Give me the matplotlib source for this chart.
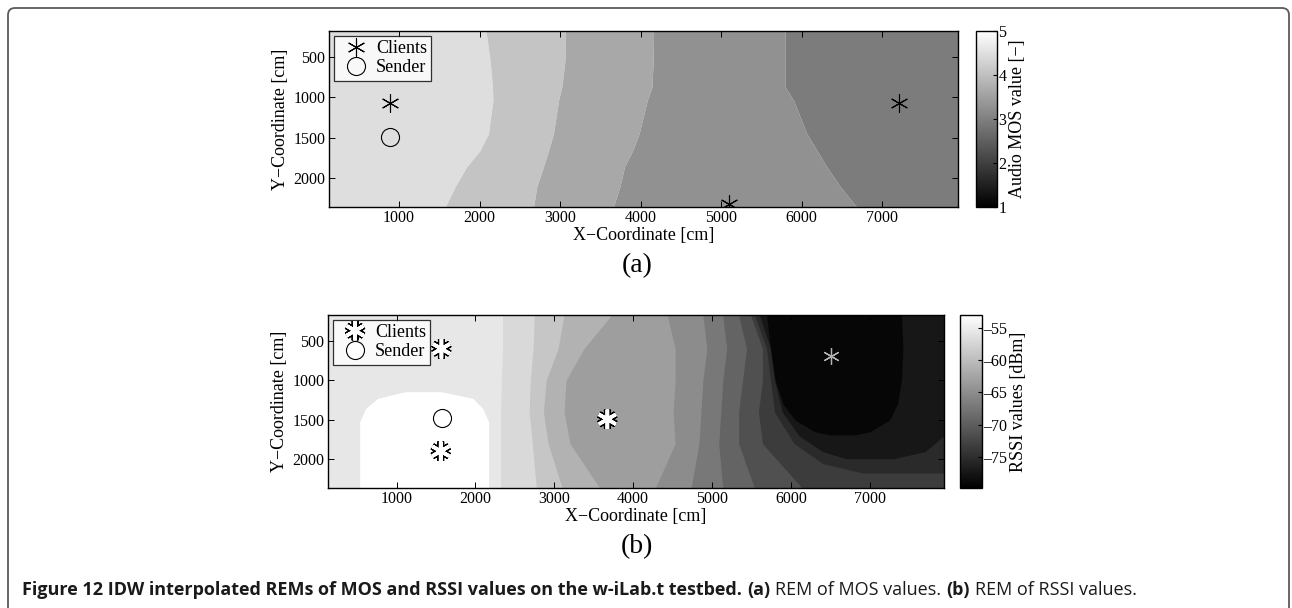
import matplotlib
matplotlib.use("Agg")
import matplotlib.pyplot as plt
from matplotlib import patches, patheffects
from matplotlib.cm import ScalarMappable
from matplotlib.colors import Normalize
from matplotlib.ticker import FuncFormatter
from matplotlib.transforms import IdentityTransform

plt.rcParams["font.family"] = ["Liberation Serif", "DejaVu Serif"]

# ---------------- data ----------------
XLIM = (130, 7940)
YLIM = (2360, 175)

# (a) MOS map: x position of each band boundary at the sample heights
mos_y = [175, 540, 870, 1040, 1450, 1660, 1860, 2110, 2365]
mos_b1 = [2080, 2130, 2160, 2165, 2110, 2005, 1840, 1695, 1570]
mos_b2 = [3062, 3060, 3020, 2980, 2917, 2855, 2793, 2710, 2668]
mos_b3 = [4160, 4155, 4140, 4080, 3980, 3900, 3800, 3740, 3660]
mos_b4 = [5795, 5795, 5795, 5900, 6063, 6190, 6310, 6480, 6685]
mos_band_vals = [4.47, 4.07, 3.63, 3.28, 2.95]

mos_clients_x = [888, 5099, 7203]
mos_clients_y = [1075, 2317, 1063]
mos_sender_x = [888]
mos_sender_y = [1490]

# (b) RSSI map: layers drawn right of a boundary (x at the sample heights)
rssi_y = [175, 600, 1000, 1400, 1800, 2360]
rssi_layers = [
    ([2343, 2343, 2328, 2318, 2318, 2318], -57.0),
    ([2745, 2730, 2695, 2680, 2720, 2771], -59.0),
    ([3123, 3047, 2896, 2861, 2921, 3098], -61.1),
    ([3726, 3374, 3148, 3123, 3198, 3575], -63.2),
    ([4430, 4531, 4531, 4506, 4531, 4280], -65.1),
    ([4883, 4933, 4883, 4858, 4833, 4733], -67.2),
    ([5135, 5185, 5135, 5110, 5084, 5135], -69.3),
    ([5336, 5436, 5386, 5336, 5336, 5537], -71.4),
    ([5487, 5638, 5638, 5587, 5638, 6141], -73.5),
]
# dark rings round the far client: y range, left and right edges
rssi_ring_y = [
    [175, 600, 1000, 1400, 1800, 2050, 2170],
    [175, 600, 1000, 1400, 1700, 1900, 1990],
    [175, 600, 1000, 1300, 1500, 1650, 1690],
]
rssi_ring_left = [
    [5540, 5690, 5740, 5790, 6040, 6400, 6900],
    [5600, 5740, 5790, 5890, 6100, 6400, 6700],
    [5690, 5740, 5800, 5900, 6050, 6300, 6500],
]
rssi_ring_right = [
    [7940, 7940, 7940, 7940, 7940, 7940, 7940],
    [7940, 7940, 7940, 7940, 7940, 7700, 7300],
    [7400, 7420, 7400, 7350, 7250, 7000, 6800],
]
rssi_ring_vals = [-75.4, -77.3, -79.1]
# white spot round the sender
blob_y = [1143, 1228, 1354, 1524, 2360]
blob_left = [1110, 759, 608, 532, 532]
blob_right = [1563, 1966, 2091, 2167, 2167]
rssi_back = -55.6
rssi_blob = -53.0

rssi_clients_x = [1568, 1559, 3672]
rssi_clients_y = [602, 1895, 1492]
rssi_far_x = [6502]
rssi_far_y = [690]
rssi_sender_x = [1576]
rssi_sender_y = [1479]

mos_ticks = [1, 2, 3, 4, 5]
rssi_ticks = [-75, -70, -65, -60, -55]

W, H = 1292, 608
fig = plt.figure(figsize=(W / 100, H / 100), dpi=100)


def frac(x0, y0, x1, y1):
    return [x0 / W, 1 - y1 / H, (x1 - x0) / W, (y1 - y0) / H]


cmap = plt.get_cmap("gray")
STAR = (6, 2, 0)


def style_axes(ax):
    ax.set_xlim(*XLIM)
    ax.set_ylim(*YLIM)
    ax.set_xticks([1000, 2000, 3000, 4000, 5000, 6000, 7000])
    ax.set_yticks([500, 1000, 1500, 2000])
    ax.tick_params(direction="in", length=4, width=0.7, top=True, right=True,
                   labelsize=11.5, pad=2.5)
    ax.set_xlabel("X\u2212Coordinate [cm]", fontsize=13, labelpad=0.5)
    ax.set_ylabel("Y\u2212Coordinate [cm]", fontsize=13, labelpad=3)
    for s in ax.spines.values():
        s.set_linewidth(1.0)


def add_legend(ax):
    leg = ax.legend(loc="upper left", fontsize=13, frameon=True, fancybox=False,
                    edgecolor="black", borderpad=0.25, handlelength=2.0,
                    handletextpad=0.1, labelspacing=0.12, borderaxespad=0.25)
    leg.get_frame().set_linewidth(0.9)


# ---------------- panel (a) ----------------
ax1 = fig.add_axes(frac(329, 31, 958, 207))
norm_a = Normalize(1, 5)
bounds = [[XLIM[0]] * len(mos_y), mos_b1, mos_b2, mos_b3, mos_b4, [XLIM[1]] * len(mos_y)]
for i, v in enumerate(mos_band_vals):
    ax1.fill_betweenx(mos_y, bounds[i], bounds[i + 1], color=cmap(norm_a(v)), lw=0)
ax1.plot(mos_clients_x, mos_clients_y, ls="none", marker=STAR, ms=13,
         mew=0.8, color="black", label="Clients")
ax1.plot(mos_sender_x, mos_sender_y, ls="none", marker="o", ms=13, mew=0.8,
         mfc="none", color="black", label="Sender")
style_axes(ax1)
add_legend(ax1)

cax1 = fig.add_axes(frac(976, 31, 997, 207))
cb1 = fig.colorbar(ScalarMappable(norm_a, cmap), cax=cax1, ticks=mos_ticks)
cb1.ax.tick_params(direction="in", length=3, labelsize=11.5, pad=1)
cb1.set_label("Audio MOS value [\u2212]", fontsize=13, labelpad=2)
cb1.outline.set_linewidth(1.0)

fig.text(637 / W, 1 - 266 / H, "(a)", fontsize=20, ha="center", va="center")

# ---------------- panel (b) ----------------
ax2 = fig.add_axes(frac(328, 315, 944, 488))
norm_b = Normalize(-79.8, -53.0)
ax2.set_facecolor(cmap(norm_b(rssi_back)))
for xs, v in rssi_layers:
    ax2.fill_betweenx(rssi_y, xs, XLIM[1], color=cmap(norm_b(v)), lw=0)
for ys, lft, rgt, v in zip(rssi_ring_y, rssi_ring_left, rssi_ring_right, rssi_ring_vals):
    ax2.fill_betweenx(ys, lft, rgt, color=cmap(norm_b(v)), lw=0)
ax2.fill_betweenx(blob_y, blob_left, blob_right, color=cmap(norm_b(rssi_blob)), lw=0)

outline = [patheffects.withStroke(linewidth=5, foreground="black")]
ax2.plot(rssi_clients_x, rssi_clients_y, ls="none", marker=STAR, ms=14,
         mew=2.6, color="white", label="Clients", path_effects=outline)
ax2.plot(rssi_far_x, rssi_far_y, ls="none", marker=STAR, ms=12, mew=0.9,
         color="#b4b4b4")
ax2.plot(rssi_sender_x, rssi_sender_y, ls="none", marker="o", ms=13, mew=0.8,
         mfc="white", color="black", label="Sender")
style_axes(ax2)
add_legend(ax2)

cax2 = fig.add_axes(frac(960, 315, 982, 488))
cb2 = fig.colorbar(ScalarMappable(norm_b, cmap), cax=cax2, ticks=rssi_ticks,
                   format=FuncFormatter(lambda v, p: "\u2013%d" % abs(v)))
cb2.ax.tick_params(direction="in", length=3, labelsize=11.5, pad=1)
cb2.set_label("RSSI values [dBm]", fontsize=13, labelpad=2)
cb2.outline.set_linewidth(1.0)

fig.text(637 / W, 1 - 547 / H, "(b)", fontsize=20, ha="center", va="center")

# ---------------- caption and frame ----------------
caption = [
    ("Figure 12 IDW interpolated REMs of MOS and RSSI values on the w-iLab.t testbed.", "bold"),
    ("(a)", "bold"),
    ("REM of MOS values.", "normal"),
    ("(b)", "bold"),
    ("REM of RSSI values.", "normal"),
]
renderer = fig.canvas.get_renderer()
cx = 22
for txt, wt in caption:
    t = fig.text(cx / W, 1 - 595 / H, txt, fontsize=13, fontweight=wt,
                 family=["Open Sans", "DejaVu Sans"], color="#1a1a1a",
                 ha="left", va="baseline")
    cx += t.get_window_extent(renderer).width + 5

frame = patches.FancyBboxPatch((8, -60), 1281, 660, boxstyle="round,pad=0,rounding_size=7",
                               transform=IdentityTransform(), fill=False,
                               edgecolor="#5a5a5a", lw=1.3)
fig.patches.append(frame)

fig.savefig("out.png", dpi=100)
